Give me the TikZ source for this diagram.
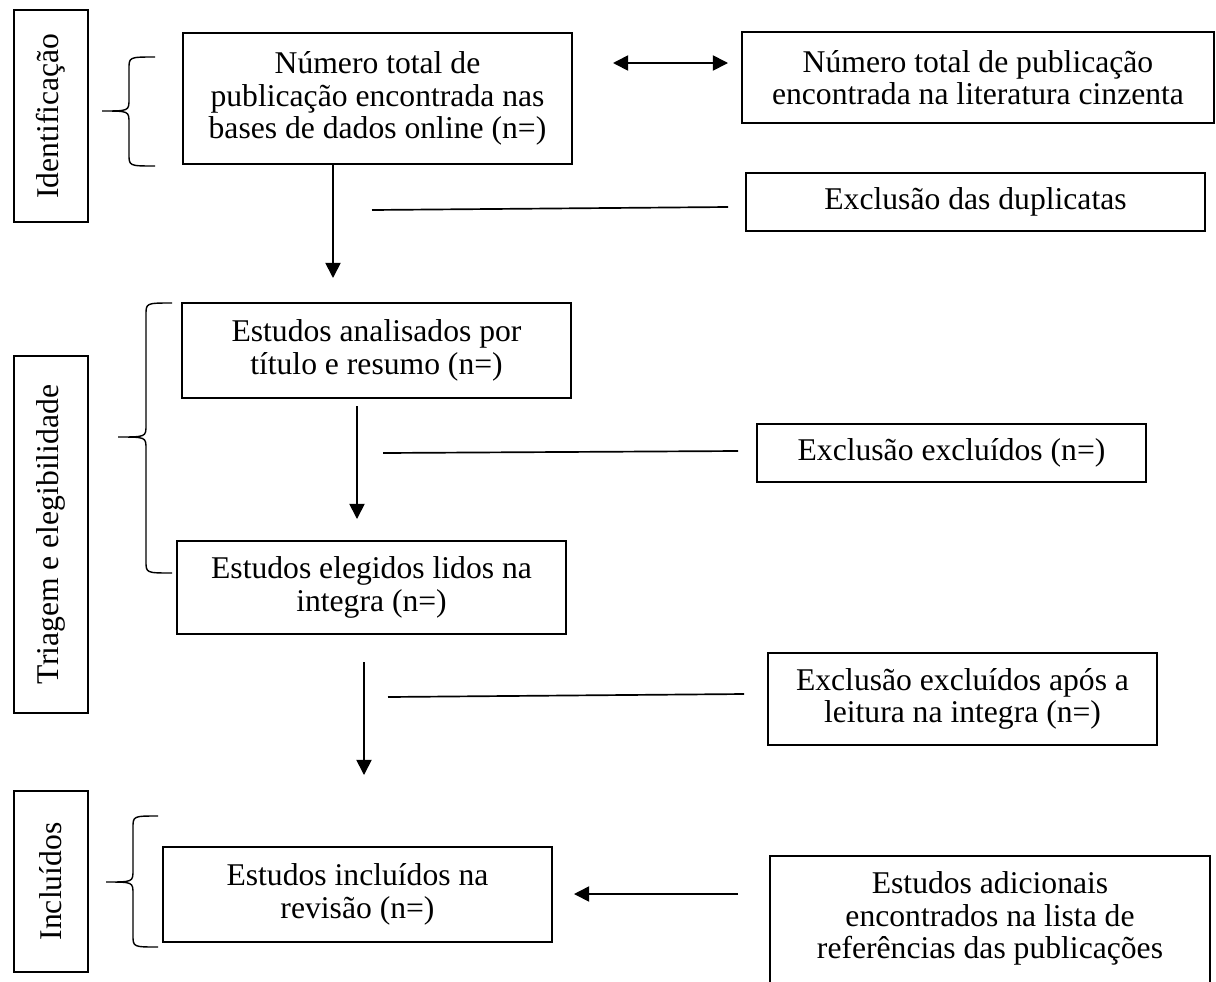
\documentclass[tikz,border=0pt]{standalone}
\usepackage{fontspec}
\setmainfont{Liberation Serif}
\usetikzlibrary{arrows.meta, positioning, calc}

\tikzset{
    box/.style={draw, line width=1.2pt, align=center, inner sep=2pt,
                font=\fontsize{22.5}{23.1}\selectfont},
    sidebox/.style={box, rotate=90, minimum height=1.85cm},
    conn/.style={line width=1.2pt},
    arr/.style={conn, -{Triangle[length=0.38cm, width=0.38cm]}},
    dblarr/.style={conn, {Triangle[length=0.38cm, width=0.38cm]}-{Triangle[length=0.38cm, width=0.38cm]}},
    phasebrace/.style={line width=1pt},
}

\begin{document}
\begin{tikzpicture}[x=0.025cm, y=-0.025cm]
                \useasboundingbox (0,0) rectangle (1216,981);
                \clip (0,0) rectangle (1216,981);

                % Phase labels
                \node[sidebox, minimum width=5.3cm] (ident) at (51,116) {Identificação};
                \node[sidebox, minimum width=8.925cm] (triag) at (51,534.5) {Triagem e elegibilidade};
                \node[sidebox, minimum width=4.525cm] (inclu) at (51,881.5) {Incluídos};

                % Braces (top/middle/bottom, stem x, tip x, end x)
                \foreach \yt/\ym/\yb/\xv/\xt/\xe in {57/111/166/129/102/155,
                                                    303/437/573/146/118/172,
                                                    816/882/947/133/106/158} {
                    \draw[phasebrace] (\xe,\yt) .. controls (\xv,\yt) .. (\xv,{\yt+12})
                        -- (\xv,{\ym-12}) .. controls (\xv,\ym) .. (\xt,\ym)
                        .. controls (\xv,\ym) .. (\xv,{\ym+12})
                        -- (\xv,{\yb-12}) .. controls (\xv,\yb) .. (\xe,\yb);
                }

                % Flow boxes
                \node[box, minimum width=9.725cm, minimum height=3.275cm] (nbases) at (377.5,98.5)
                    {Número total de\\publicação encontrada nas\\bases de dados online (n=)};
                \node[box, minimum width=11.8cm, minimum height=2.275cm] (ncinza) at (978,77.5)
                    {Número total de publicação\\encontrada na literatura cinzenta};
                \node[box, minimum width=11.475cm, minimum height=1.45cm] (dupl) at (975.5,202)
                    {Exclusão das duplicatas};
                \node[box, minimum width=9.725cm, minimum height=2.375cm] (titres) at (376.5,350.5)
                    {Estudos analisados por\\título e resumo (n=)};
                \node[box, minimum width=9.725cm, minimum height=1.45cm] (excla) at (951.5,453)
                    {Exclusão excluídos (n=)};
                \node[box, minimum width=9.725cm, minimum height=2.325cm] (integ) at (371.5,587.5)
                    {Estudos elegidos lidos na\\integra (n=)};
                \node[box, minimum width=9.725cm, minimum height=2.3cm] (exclb) at (962.5,699)
                    {Exclusão excluídos após a\\leitura na integra (n=)};
                \node[box, minimum width=9.725cm, minimum height=2.375cm] (revis) at (357.5,894.5)
                    {Estudos incluídos na\\revisão (n=)};
                \node[box, minimum width=11cm, anchor=north, inner ysep=0.4cm, text depth=1.5cm] (adic) at (990,855)
                    {Estudos adicionais\\encontrados na lista de\\referências das publicações};

                % Connector ends
                \coordinate (dblL) at (613,63);
                \coordinate (dblR) at (728,63);
                \coordinate (arrA) at (333,278);
                \coordinate (dupS) at (372,210);
                \coordinate (dupE) at (728,207);
                \coordinate (arrBs) at (357,406);
                \coordinate (arrBe) at (357,519);
                \coordinate (exaS) at (383,453);
                \coordinate (exaE) at (738,451);
                \coordinate (arrCs) at (364,662);
                \coordinate (arrCe) at (364,775);
                \coordinate (exbS) at (388,697);
                \coordinate (exbE) at (744,694);
                \coordinate (arrDs) at (738,894);
                \coordinate (arrDe) at (574,894);

                % Connectors
                \draw[dblarr] (dblL) -- (dblR);
                \draw[arr] (nbases.south -| arrA) -- (arrA);
                \draw[conn] (dupS) -- (dupE);
                \draw[arr] (arrBs) -- (arrBe);
                \draw[conn] (exaS) -- (exaE);
                \draw[arr] (arrCs) -- (arrCe);
                \draw[conn] (exbS) -- (exbE);
                \draw[arr] (arrDs) -- (arrDe);
            \end{tikzpicture}
\end{document}
